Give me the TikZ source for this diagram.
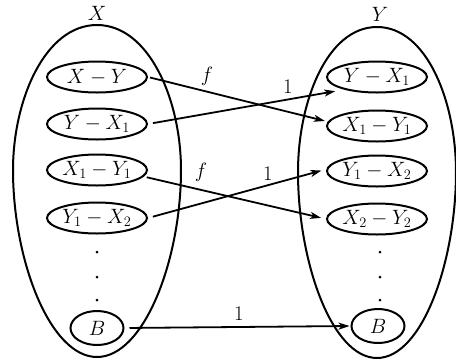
\documentclass[tikz,border=0pt]{standalone}
\usetikzlibrary{shapes.geometric,arrows.meta}
\begin{document}
\begin{tikzpicture}[x=1pt,y=-1pt,
  setline/.style={line width=2pt},
  elem/.style={draw,ellipse,line width=2pt,inner sep=0pt,minimum width=100pt,minimum height=31pt,font=\fontsize{20}{21}\selectfont},
  belem/.style={draw,ellipse,line width=2pt,inner sep=0pt,minimum width=53pt,minimum height=34pt,font=\fontsize{21}{22}\selectfont},
  lab/.style={font=\fontsize{21}{22}\selectfont},
  arr/.style={line width=1.8pt,-{Stealth[length=11pt,width=7pt,inset=3pt]}},
  dot/.style={circle,fill,inner sep=0pt,minimum size=3pt}]
\useasboundingbox (0,0) rectangle (456,360);
% big sets
\draw[setline] (97,25) .. controls (45,25) and (13,100) .. (13,170)
  .. controls (13,260) and (50,357) .. (97,357)
  .. controls (144,357) and (181,260) .. (181,170)
  .. controls (181,100) and (149,25) .. (97,25) -- cycle;
\draw[setline] (377,27) .. controls (327,27) and (298,102) .. (298,172)
  .. controls (298,262) and (332,358) .. (377,358)
  .. controls (422,358) and (456,262) .. (456,172)
  .. controls (456,102) and (427,27) .. (377,27) -- cycle;
\node[lab] (LX) at (97,13) {$X$};
\node[lab] (LY) at (380,14) {$Y$};
% X elements
\node[elem] (a1) at (97,77) {$X-Y$};
\node[elem] (a2) at (97,124) {$Y-X_1$};
\node[elem] (a3) at (97,170) {$X_1-Y_1$};
\node[elem] (a4) at (97,218) {$Y_1-X_2$};
\node[dot] (ad1) at (97,252) {};
\node[dot] (ad2) at (97,277) {};
\node[dot] (ad3) at (97,300) {};
\node[belem] (aB) at (97,328) {$B$};
% Y elements
\node[elem] (b1) at (377,77) {$Y-X_1$};
\node[elem] (b2) at (377,126) {$X_1-Y_1$};
\node[elem] (b3) at (377,171) {$Y_1-X_2$};
\node[elem] (b4) at (377,219) {$X_2-Y_2$};
\node[dot] (bd1) at (380,252) {};
\node[dot] (bd2) at (380,277) {};
\node[dot] (bd3) at (380,300) {};
\node[belem] (bB) at (378,326) {$B$};
% arrows
\draw[arr,shorten <=2pt,shorten >=3pt] (a1.east) -- (b2.175);
\draw[arr,shorten <=5pt,shorten >=9pt] (a2.east) -- (b1.201);
\draw[arr,shorten <=3pt,shorten >=5pt] (a3.-8) -- (b4.west);
\draw[arr,shorten <=5pt,shorten >=5pt] (a4.east) -- (b3.178);
\draw[arr,shorten <=5pt,shorten >=1pt] (aB.east) -- (bB.west);
% labels
\node[lab] (f1) at (207,76) {$f$};
\node[lab] (o1) at (288,87) {$1$};
\node[lab] (f2) at (201,172) {$f$};
\node[lab] (o2) at (268,174) {$1$};
\node[lab] (o3) at (239,314) {$1$};
\end{tikzpicture}
\end{document}
